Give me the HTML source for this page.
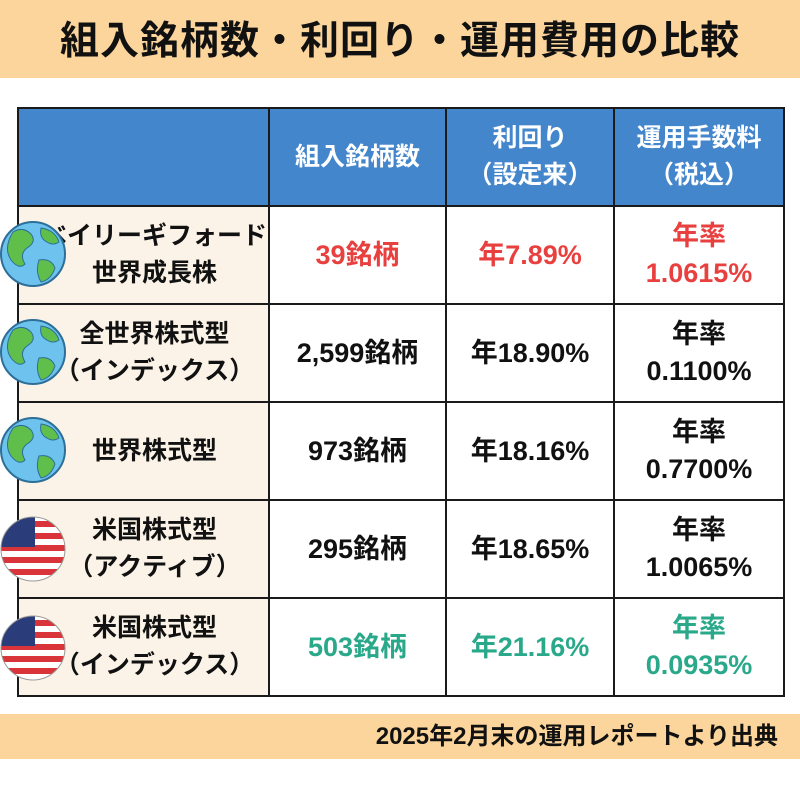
<!DOCTYPE html>
<html><head><meta charset="utf-8"><style>
body{margin:0;width:800px;height:800px;background:#fff;position:relative;overflow:hidden;font-family:"Liberation Sans","Noto Sans CJK JP",sans-serif;font-weight:bold;}
.banner{position:absolute;left:0;top:0;width:800px;height:78px;background:#fbd59c;}
.title{position:absolute;left:0;top:10px;width:800px;text-align:center;font-size:39px;color:#111;letter-spacing:1px;}
table{position:absolute;left:17px;top:107px;border-collapse:collapse;}
td{border:2.5px solid #1a1a1a;text-align:center;vertical-align:middle;font-size:27px;line-height:37px;color:#111;padding:0;}
tr.h td{background:#4486cb;color:#fff;height:96px;font-size:25px;}
tr.r td{height:96px;}
td.n{background:#fbf3e7;font-size:25px;padding-left:22px;}
.red{color:#e8403f}.grn{color:#2aa88a}
.foot{position:absolute;left:0;top:714px;width:800px;height:45px;background:#fbd59c;}
.ft{position:absolute;right:22px;top:716px;font-size:24px;color:#111;}
.ic{position:absolute;left:0;}
</style></head><body>
<div class="banner"></div>
<div class="title">組入銘柄数・利回り・運用費用の比較</div>
<table>
<tr class="h"><td style="width:249px"></td><td style="width:175px">組入銘柄数</td><td style="width:166px">利回り<br>（設定来）</td><td style="width:168px">運用手数料<br>（税込）</td></tr>
<tr class="r"><td class="n">ベイリーギフォード<br>世界成長株</td><td class="red">39銘柄</td><td class="red">年7.89%</td><td class="red">年率<br>1.0615%</td></tr>
<tr class="r"><td class="n">全世界株式型<br>（インデックス）</td><td>2,599銘柄</td><td>年18.90%</td><td>年率<br>0.1100%</td></tr>
<tr class="r"><td class="n">世界株式型</td><td>973銘柄</td><td>年18.16%</td><td>年率<br>0.7700%</td></tr>
<tr class="r"><td class="n">米国株式型<br>（アクティブ）</td><td>295銘柄</td><td>年18.65%</td><td>年率<br>1.0065%</td></tr>
<tr class="r"><td class="n">米国株式型<br>（インデックス）</td><td class="grn">503銘柄</td><td class="grn">年21.16%</td><td class="grn">年率<br>0.0935%</td></tr>
</table>
<svg class="ic" width="80" height="800" style="top:0">
<defs>
<g id="globe"><circle r="32" fill="#6ec3ee" stroke="#2c6f98" stroke-width="2"/><path d="M-20,-22 q10,-6 18,2 q6,8 -4,14 q-8,6 -2,16 q-6,6 -14,-4 q-8,-12 2,-28z M8,-26 q14,2 18,14 q-6,4 -12,0 q-8,-4 -6,-14z M6,6 q12,-2 16,8 q-4,12 -14,14 q-6,-10 -2,-22z" fill="#5fbf4a" stroke="#2c6f98" stroke-width="1"/></g>
<clipPath id="cc"><circle r="32"/></clipPath>
<g id="flag"><g clip-path="url(#cc)"><rect x="-32" y="-32" width="64" height="64" fill="#fff"/>
<rect x="-32" y="-28" width="64" height="6" fill="#d8343a"/><rect x="-32" y="-16" width="64" height="6" fill="#d8343a"/><rect x="-32" y="-4" width="64" height="6" fill="#d8343a"/><rect x="-32" y="8" width="64" height="6" fill="#d8343a"/><rect x="-32" y="20" width="64" height="6" fill="#d8343a"/>
<rect x="-32" y="-32" width="34" height="30" fill="#2b3c7a"/></g><circle r="32" fill="none" stroke="#999" stroke-width="1"/></g>
</defs>
<use href="#globe" x="33" y="254"/>
<use href="#globe" x="33" y="352"/>
<use href="#globe" x="33" y="450"/>
<use href="#flag" x="33" y="549"/>
<use href="#flag" x="33" y="648"/>
</svg>
<div class="foot"></div>
<div class="ft">2025年2月末の運用レポートより出典</div>
</body></html>
